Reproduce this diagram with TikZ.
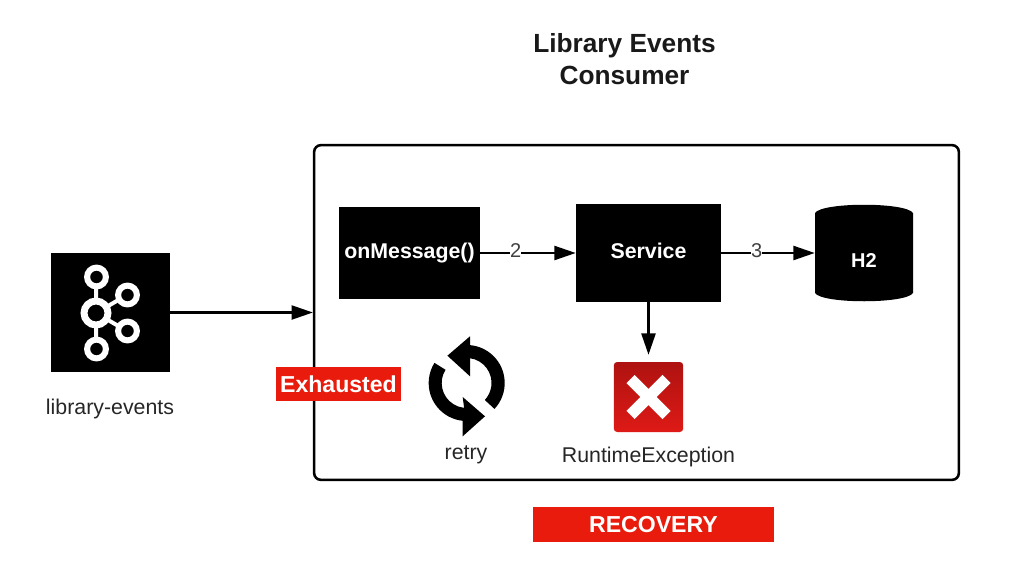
\documentclass[tikz,border=0pt]{standalone}
\usepackage{fontspec}
\setmainfont{Liberation Sans}
\usetikzlibrary{arrows.meta,shapes.geometric}
\definecolor{redbar}{HTML}{E81B0C}
\definecolor{errtop}{HTML}{AE1210}
\definecolor{errbot}{HTML}{DE1A16}
\newcommand{\fs}[1]{\fontsize{#1}{#1}\selectfont}
\tikzset{
  blackbox/.style={fill=black,draw=none,inner sep=0pt,text=white,font=\bfseries\fs{16}},
  redbox/.style={fill=redbar,draw=none,inner sep=0pt,text=white,font=\bfseries\fs{17.3}},
  plain/.style={inner sep=0pt,text=black!85,font=\fs{16}},
  conn/.style={draw=black,line width=1.7pt,-{Triangle[length=16pt,width=10.5pt]}},
  steplabel/.style={fill=white,inner sep=0pt,text=black!75,font=\fs{15}},
  ringbig/.style={draw=white,line width=5.2pt},
  ringsmall/.style={draw=white,line width=4.5pt},
  kline/.style={draw=white,line width=3pt}
}
\begin{document}
\begin{tikzpicture}[x=0.75pt,y=-0.75pt]
\useasboundingbox (0,0) rectangle (1022,582);
\node[inner sep=0pt,align=center,font=\bfseries\fs{19.7},text=black!90] (title) at (624.5,57.5) {\rule{0pt}{17pt}Library Events\\[4pt]Consumer};
% outer frame
\node[draw=black,line width=1.9pt,rounded corners=5pt,minimum width=483.5pt,minimum height=251pt,inner sep=0pt] (outer) at (636.5,312.5) {};
% kafka
\node[fill=black,minimum width=89.25pt,minimum height=89.25pt,inner sep=0pt] (kafka) at (110.5,312.5) {};
\draw[kline] (96,277) -- (96,349) (96,313) -- (127,295) (96,313) -- (127,331);
\draw[ringbig,fill=black] (96,313) circle[radius=12];
\draw[ringsmall,fill=black] (96.5,277) circle[radius=9.4];
\draw[ringsmall,fill=black] (96.5,349) circle[radius=9.4];
\draw[ringsmall,fill=black] (127.5,295) circle[radius=9.4];
\draw[ringsmall,fill=black] (127.5,331) circle[radius=9.4];
\node[plain] (topic) at (110,409) {library-events};
% boxes
\node[blackbox,minimum width=105.75pt,minimum height=69pt] (msg) at (409.5,253) {\raisebox{3pt}{onMessage()}};
\node[blackbox,minimum width=108.75pt,minimum height=73.5pt] (svc) at (648.5,253) {\raisebox{3pt}{Service}};
\fill[black] (815,213) .. controls (822,202) and (906,202) .. (913,213) -- (913,293) .. controls (906,304) and (822,304) .. (815,293) -- cycle;
\node[minimum width=73.5pt,minimum height=72pt,inner sep=0pt] (h2) at (864,253) {};
\node[inner sep=0pt,text=white,font=\bfseries\fs{15}] (h2text) at (864,261) {H2};
% retry
\begin{scope}[shift={(466.7,383)},x=0.75pt,y=0.75pt]
\fill[black] (3.3,46.7) -- (-19.3,27.3) -- (3.3,6.7) -- (3.3,24.8)
  arc[start angle=82,end angle=-43,radius=25]
  -- (-43:38) arc[start angle=-43,end angle=85,radius=38] -- cycle;
\fill[black] (-4,-14) -- (18.3,-33.3) -- (-4,-53.3) -- (-4,-37.8)
  arc[start angle=264,end angle=148,radius=38]
  -- (148:25) arc[start angle=148,end angle=264,radius=25] -- cycle;
\end{scope}
\node[plain] (retry) at (466,455) {retry};
% error icon
\node[rounded corners=2.5pt,top color=errtop,bottom color=errbot,minimum width=52pt,minimum height=52.5pt,inner sep=0pt] (err) at (648.5,397) {};
\draw[white,line width=8.6pt] ([shift={(-18,-18)}]err.center) -- ([shift={(18,18)}]err.center);
\draw[white,line width=8.6pt] ([shift={(18,-18)}]err.center) -- ([shift={(-18,18)}]err.center);
\node[plain] (exc) at (648.5,457) {RuntimeException};
% red labels
\node[redbox,minimum width=93.75pt,minimum height=25.5pt] (exh) at (338.5,384) {Exhausted};
\node[redbox,minimum width=180.75pt,minimum height=26.25pt] (rec) at (653.5,524.5) {RECOVERY};
% connectors
\draw[conn] (kafka.east) -- (outer.west);
\draw[conn] (msg.east) -- node[steplabel,pos=0.37,yshift=1.5pt] (two) {2} (svc.west);
\draw[conn] (svc.east) -- node[steplabel,pos=0.38,yshift=1.5pt] (three) {3} (h2.west);
\draw[conn,shorten >=5.2pt] (svc.south) -- (err.north);
\end{tikzpicture}
\end{document}
